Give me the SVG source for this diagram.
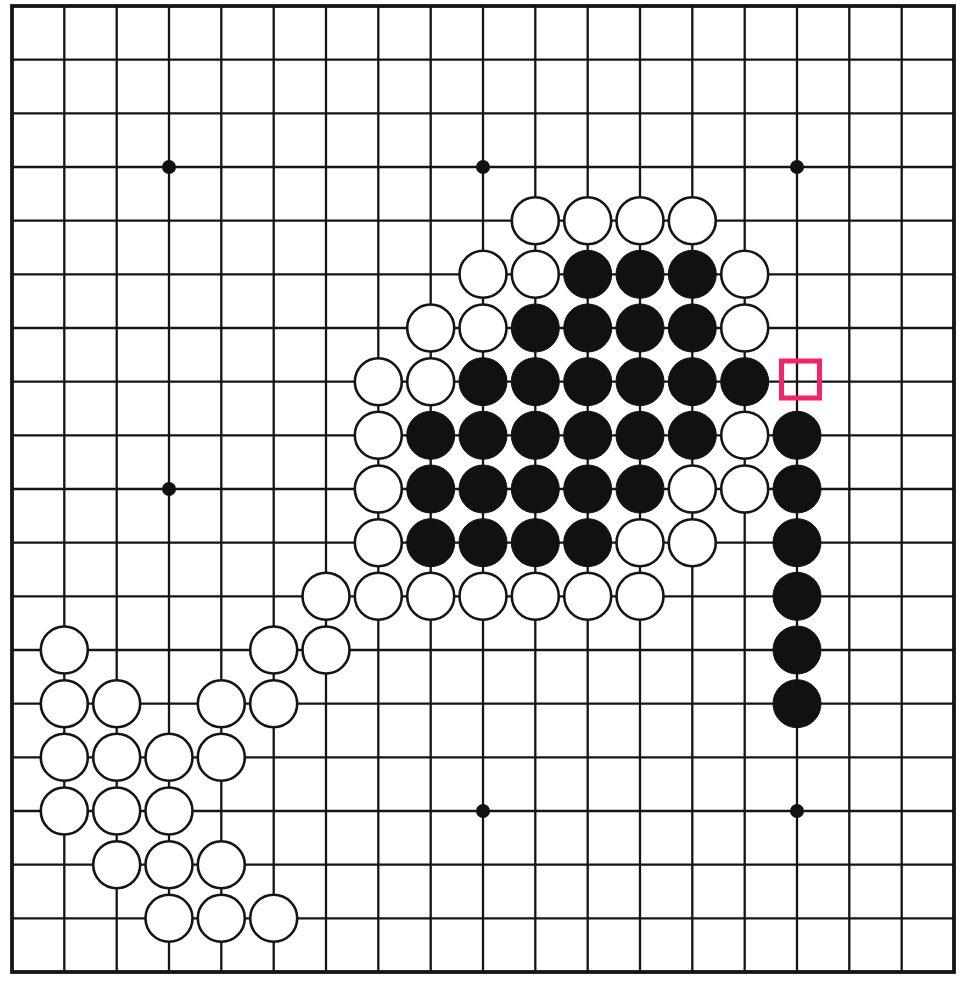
<svg xmlns="http://www.w3.org/2000/svg" width="964" height="986" viewBox="0 0 964 986">
<style>
.g{stroke:#151515;stroke-width:2.3;fill:none}
.w{fill:#fff;stroke:#151515;stroke-width:2.6}
.b{fill:#111;stroke:#111;stroke-width:1}
.s{fill:#111}
</style>
<rect x="0" y="0" width="964" height="986" fill="#fff"/>
<g id="grid" class="g">
<path d="M64.3 6V972M116.7 6V972M169 6V972M221.3 6V972M273.7 6V972M326 6V972M378.3 6V972M430.7 6V972M483 6V972M535.3 6V972M587.7 6V972M640 6V972M692.3 6V972M744.7 6V972M797 6V972M849.3 6V972M901.7 6V972"/>
<path d="M12 59.7H954M12 113.3H954M12 167H954M12 220.7H954M12 274.3H954M12 328H954M12 381.7H954M12 435.3H954M12 489H954M12 542.7H954M12 596.3H954M12 650H954M12 703.7H954M12 757.3H954M12 811H954M12 864.7H954M12 918.3H954"/>
<rect x="12" y="6" width="942" height="966" stroke-width="3.8"/>
</g>
<g id="stars" class="s">
<circle cx="169" cy="167" r="7"/><circle cx="483" cy="167" r="7"/><circle cx="797" cy="167" r="7"/>
<circle cx="169" cy="489" r="7"/><circle cx="483" cy="811" r="7"/><circle cx="797" cy="811" r="7"/>
</g>
<g id="white-stones" class="w">
<circle cx="535.3" cy="220.7" r="23.5"/><circle cx="587.7" cy="220.7" r="23.5"/><circle cx="640" cy="220.7" r="23.5"/><circle cx="692.3" cy="220.7" r="23.5"/>
<circle cx="483" cy="274.3" r="23.5"/><circle cx="535.3" cy="274.3" r="23.5"/><circle cx="744.7" cy="274.3" r="23.5"/>
<circle cx="430.7" cy="328" r="23.5"/><circle cx="483" cy="328" r="23.5"/><circle cx="744.7" cy="328" r="23.5"/>
<circle cx="378.3" cy="381.7" r="23.5"/><circle cx="430.7" cy="381.7" r="23.5"/>
<circle cx="378.3" cy="435.3" r="23.5"/><circle cx="744.7" cy="435.3" r="23.5"/>
<circle cx="378.3" cy="489" r="23.5"/><circle cx="692.3" cy="489" r="23.5"/><circle cx="744.7" cy="489" r="23.5"/>
<circle cx="378.3" cy="542.7" r="23.5"/><circle cx="640" cy="542.7" r="23.5"/><circle cx="692.3" cy="542.7" r="23.5"/>
<circle cx="326" cy="596.3" r="23.5"/><circle cx="378.3" cy="596.3" r="23.5"/><circle cx="430.7" cy="596.3" r="23.5"/><circle cx="483" cy="596.3" r="23.5"/><circle cx="535.3" cy="596.3" r="23.5"/><circle cx="587.7" cy="596.3" r="23.5"/><circle cx="640" cy="596.3" r="23.5"/>
<circle cx="64.3" cy="650" r="23.5"/><circle cx="273.7" cy="650" r="23.5"/><circle cx="326" cy="650" r="23.5"/>
<circle cx="64.3" cy="703.7" r="23.5"/><circle cx="116.7" cy="703.7" r="23.5"/><circle cx="221.3" cy="703.7" r="23.5"/><circle cx="273.7" cy="703.7" r="23.5"/>
<circle cx="64.3" cy="757.3" r="23.5"/><circle cx="116.7" cy="757.3" r="23.5"/><circle cx="169" cy="757.3" r="23.5"/><circle cx="221.3" cy="757.3" r="23.5"/>
<circle cx="64.3" cy="811" r="23.5"/><circle cx="116.7" cy="811" r="23.5"/><circle cx="169" cy="811" r="23.5"/>
<circle cx="116.7" cy="864.7" r="23.5"/><circle cx="169" cy="864.7" r="23.5"/><circle cx="221.3" cy="864.7" r="23.5"/>
<circle cx="169" cy="918.3" r="23.5"/><circle cx="221.3" cy="918.3" r="23.5"/><circle cx="273.7" cy="918.3" r="23.5"/>
</g>
<g id="black-stones" class="b">
<circle cx="587.7" cy="274.3" r="24"/><circle cx="640" cy="274.3" r="24"/><circle cx="692.3" cy="274.3" r="24"/>
<circle cx="535.3" cy="328" r="24"/><circle cx="587.7" cy="328" r="24"/><circle cx="640" cy="328" r="24"/><circle cx="692.3" cy="328" r="24"/>
<circle cx="483" cy="381.7" r="24"/><circle cx="535.3" cy="381.7" r="24"/><circle cx="587.7" cy="381.7" r="24"/><circle cx="640" cy="381.7" r="24"/><circle cx="692.3" cy="381.7" r="24"/><circle cx="744.7" cy="381.7" r="24"/>
<circle cx="430.7" cy="435.3" r="24"/><circle cx="483" cy="435.3" r="24"/><circle cx="535.3" cy="435.3" r="24"/><circle cx="587.7" cy="435.3" r="24"/><circle cx="640" cy="435.3" r="24"/><circle cx="692.3" cy="435.3" r="24"/><circle cx="797" cy="435.3" r="24"/>
<circle cx="430.7" cy="489" r="24"/><circle cx="483" cy="489" r="24"/><circle cx="535.3" cy="489" r="24"/><circle cx="587.7" cy="489" r="24"/><circle cx="640" cy="489" r="24"/><circle cx="797" cy="489" r="24"/>
<circle cx="430.7" cy="542.7" r="24"/><circle cx="483" cy="542.7" r="24"/><circle cx="535.3" cy="542.7" r="24"/><circle cx="587.7" cy="542.7" r="24"/><circle cx="797" cy="542.7" r="24"/>
<circle cx="797" cy="596.3" r="24"/><circle cx="797" cy="650" r="24"/><circle cx="797" cy="703.7" r="24"/>
</g>
<g id="marker-square">
<rect x="781.5" y="361" width="38" height="37" fill="none" stroke="#f5246a" stroke-width="5"/>
</g>
</svg>
